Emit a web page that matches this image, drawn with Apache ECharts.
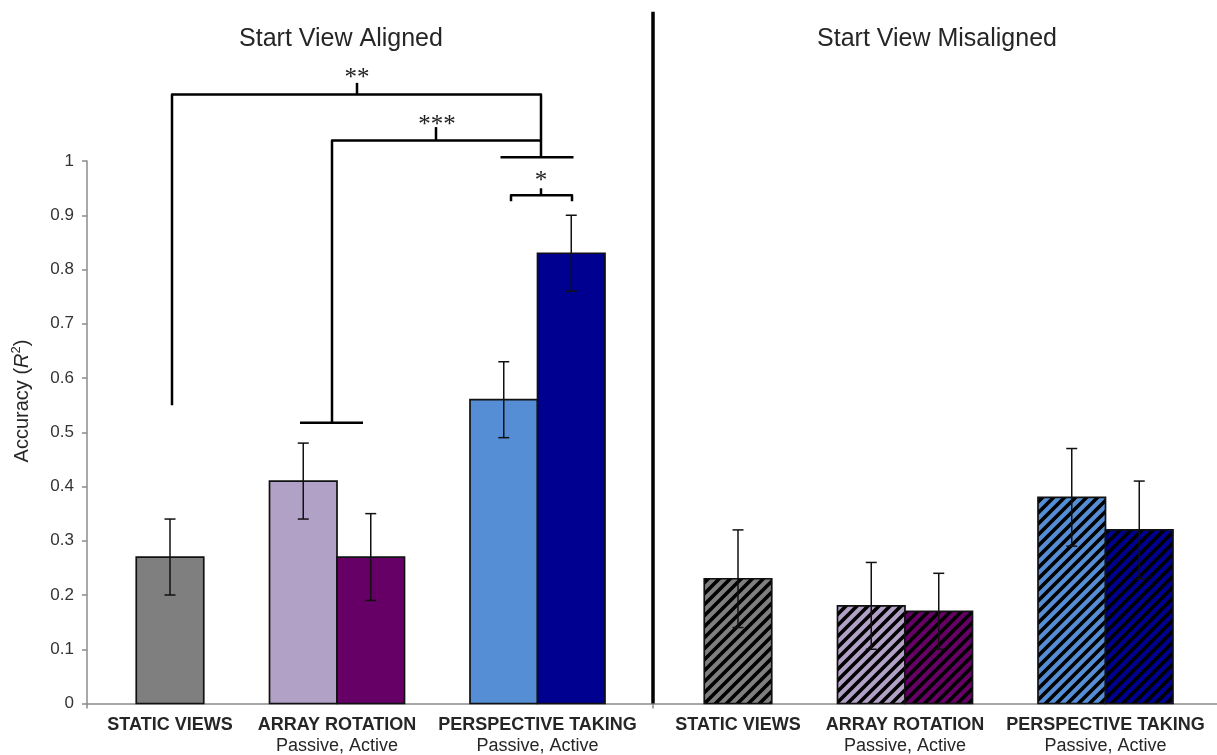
<!DOCTYPE html>
<html>
<head>
<meta charset="utf-8">
<script src="https://cdn.jsdelivr.net/npm/echarts@6/dist/echarts.min.js"></script>
<style>
  html, body { margin: 0; padding: 0; background: #fff; }
  #chart { width: 1217px; height: 755px; }
</style>
</head>
<body>
<div id="chart"></div>
<script>
// ---- data ----
const panels = ['Start View Aligned', 'Start View Misaligned'];
const groups = ['STATIC VIEWS', 'ARRAY ROTATION', 'PERSPECTIVE TAKING'];
const groupSubLabels = ['', 'Passive, Active', 'Passive, Active'];
// bar order: static, array passive, array active, perspective passive, perspective active
const alignedMeans = [0.27, 0.41, 0.27, 0.56, 0.83];
const alignedErrors = [0.07, 0.07, 0.08, 0.07, 0.07];
const misalignedMeans = [0.23, 0.18, 0.17, 0.38, 0.32];
const misalignedErrors = [0.09, 0.08, 0.07, 0.09, 0.09];
const yTicks = [0, 0.1, 0.2, 0.3, 0.4, 0.5, 0.6, 0.7, 0.8, 0.9, 1];

// ---- layout (x axis units) ----
const X_MAX = 1130;
const BAR_W = 67.5;
const groupCenters = [[83, 250, 450.5], [651, 818, 1018.5]];
const DIVIDER_X = 566;
const barColors = ['#7f7f7f', '#b2a1c7', '#660066', '#558ed5', '#000090'];
const FONT = '"Liberation Sans", Arial, sans-serif';

// diagonal hatching tile for the misaligned bars
function hatch(color) {
  const s = 11;
  const c = document.createElement('canvas');
  c.width = s; c.height = s;
  const g = c.getContext('2d');
  g.fillStyle = color;
  g.fillRect(0, 0, s, s);
  g.strokeStyle = '#000';
  g.lineWidth = 3.6;
  g.beginPath();
  g.moveTo(-3, 3); g.lineTo(3, -3);
  g.moveTo(-3, s + 3); g.lineTo(s + 3, -3);
  g.moveTo(s - 3, s + 3); g.lineTo(s + 3, s - 3);
  g.stroke();
  return c;
}
const hatchTiles = barColors.map(hatch);

// bar items: [x, mean, error, colorIndex, hatched]
function barItems(panelIdx, means, errors) {
  const c = groupCenters[panelIdx];
  const xs = [c[0], c[1] - BAR_W / 2, c[1] + BAR_W / 2, c[2] - BAR_W / 2, c[2] + BAR_W / 2];
  return means.map((m, i) => [xs[i], m, errors[i], i, panelIdx]);
}
const barData = barItems(0, alignedMeans, alignedErrors)
  .concat(barItems(1, misalignedMeans, misalignedErrors));

function renderBar(params, api) {
  const x = api.value(0), v = api.value(1), e = api.value(2);
  const ci = api.value(3), hatched = api.value(4);
  const tl = api.coord([x - BAR_W / 2, v]);
  const br = api.coord([x + BAR_W / 2, 0]);
  const top = api.coord([x, v + e]);
  const bot = api.coord([x, v - e]);
  const cap = 5.5;
  const fill = hatched ? { image: hatchTiles[ci], repeat: 'repeat' } : barColors[ci];
  const stroke = { stroke: '#111', lineWidth: 1.5 };
  return {
    type: 'group',
    children: [
      { type: 'rect', shape: { x: tl[0], y: tl[1], width: br[0] - tl[0], height: br[1] - tl[1] },
        style: { fill: fill, stroke: '#111', lineWidth: 1.7 } },
      { type: 'line', shape: { x1: top[0], y1: top[1], x2: bot[0], y2: bot[1] }, style: stroke },
      { type: 'line', shape: { x1: top[0] - cap, y1: top[1], x2: top[0] + cap, y2: top[1] }, style: stroke },
      { type: 'line', shape: { x1: bot[0] - cap, y1: bot[1], x2: bot[0] + cap, y2: bot[1] }, style: stroke }
    ]
  };
}

// significance brackets and panel divider
function renderNotes(params, api) {
  const sStatic = groupCenters[0][0], sArray = groupCenters[0][1], sPersp = groupCenters[0][2];
  const P = (x, y) => api.coord([x, y]);
  const line = (pts, w) => ({
    type: 'polyline', shape: { points: pts.map(p => P(p[0], p[1])) },
    style: { stroke: '#000', lineWidth: w || 2.5, fill: null, lineJoin: 'round', lineCap: 'butt' }
  });
  const star = (x, y, t) => {
    const p = P(x, y);
    return { type: 'text', x: p[0], y: p[1],
      style: { text: t, font: '25px "Liberation Serif", "Times New Roman", serif',
               fill: '#222', align: 'center', verticalAlign: 'middle' } };
  };
  const rightX = sPersp + 3.5;
  return {
    type: 'group',
    children: [
      // panel divider
      line([[DIVIDER_X, 0], [DIVIDER_X, 1.275]], 3.5),
      // ** static vs perspective taking
      line([[sStatic + 2, 0.55], [sStatic + 2, 1.1227], [rightX, 1.1227], [rightX, 1.0068]]),
      line([[270, 1.1227], [270, 1.144]]),
      star(270, 1.152, '**'),
      // *** array rotation vs perspective taking
      line([[sArray - 5, 0.5175], [sArray - 5, 1.038], [rightX, 1.038]]),
      line([[sArray - 37, 0.5175], [sArray + 26, 0.5175]]),
      line([[349, 1.038], [349, 1.0625]]),
      star(350, 1.066, '***'),
      line([[sPersp - 37, 1.0068], [sPersp + 36, 1.0068]]),
      // * passive vs active perspective taking
      line([[sPersp - 26.5, 0.9259], [sPersp - 26.5, 0.9369], [sPersp + 34.5, 0.9369], [sPersp + 34.5, 0.9259]]),
      line([[rightX, 0.9369], [rightX, 0.9497]]),
      star(rightX, 0.962, '*')
    ]
  };
}

const labelValues = groupCenters[0].concat(groupCenters[1]);
function xLabel(v) {
  const i = labelValues.findIndex(c => Math.abs(c - v) < 0.01);
  if (i < 0) return '';
  const g = i % 3;
  return groupSubLabels[g] ? '{b|' + groups[g] + '}\n{n|' + groupSubLabels[g] + '}' : '{b|' + groups[g] + '}';
}

const chart = echarts.init(document.getElementById('chart'), null, { renderer: 'canvas' });
chart.setOption({
  backgroundColor: '#fff',
  animation: false,
  grid: { left: 87, right: 0, top: 161, bottom: 51, containLabel: false },
  xAxis: {
    type: 'value', min: 0, max: X_MAX,
    splitLine: { show: false },
    axisLine: { show: true, lineStyle: { color: '#8c8c8c', width: 1.5 } },
    axisTick: { show: true, customValues: [0, DIVIDER_X], length: 5, lineStyle: { color: '#8c8c8c', width: 1.5 } },
    axisLabel: {
      customValues: labelValues, margin: 11, formatter: xLabel,
      rich: {
        b: { fontFamily: FONT, fontWeight: 'bold', fontSize: 18, color: '#262626', lineHeight: 21 },
        n: { fontFamily: FONT, fontSize: 18, color: '#262626', lineHeight: 21 }
      }
    }
  },
  yAxis: {
    type: 'value', min: 0, max: 1, interval: 0.1,
    splitLine: { show: false },
    axisLine: { show: true, lineStyle: { color: '#8c8c8c', width: 1.5 } },
    axisTick: { show: true, length: 5, lineStyle: { color: '#8c8c8c', width: 1.5 } },
    axisLabel: {
      margin: 13, fontFamily: FONT, fontSize: 17, color: '#333',
      formatter: v => String(+v.toFixed(1))
    }
  },
  graphic: [
    { type: 'text', x: 341, y: 39, style: { text: panels[0], font: '25px ' + FONT, fill: '#262626', align: 'center', verticalAlign: 'middle' } },
    { type: 'text', x: 937, y: 39, style: { text: panels[1], font: '25px ' + FONT, fill: '#262626', align: 'center', verticalAlign: 'middle' } },
    { type: 'text', x: 22, y: 401, rotation: Math.PI / 2,
      style: {
        text: '{n|Accuracy (}{i|R}{s|2}{n|)}', align: 'center', verticalAlign: 'middle',
        rich: {
          n: { fontFamily: FONT, fontSize: 20, fill: '#262626', lineHeight: 24 },
          i: { fontFamily: FONT, fontSize: 20, fontStyle: 'italic', fill: '#262626', lineHeight: 24 },
          s: { fontFamily: FONT, fontSize: 13, fill: '#262626', lineHeight: 24, verticalAlign: 'top' }
        }
      } }
  ],
  series: [
    { type: 'custom', name: 'bars', clip: false, renderItem: renderBar, data: barData,
      encode: { x: 0, y: 1 }, silent: true },
    { type: 'custom', name: 'notes', clip: false, renderItem: renderNotes, data: [[0, 0]],
      encode: { x: 0, y: 1 }, silent: true, z: 5 }
  ]
});
</script>
</body>
</html>
